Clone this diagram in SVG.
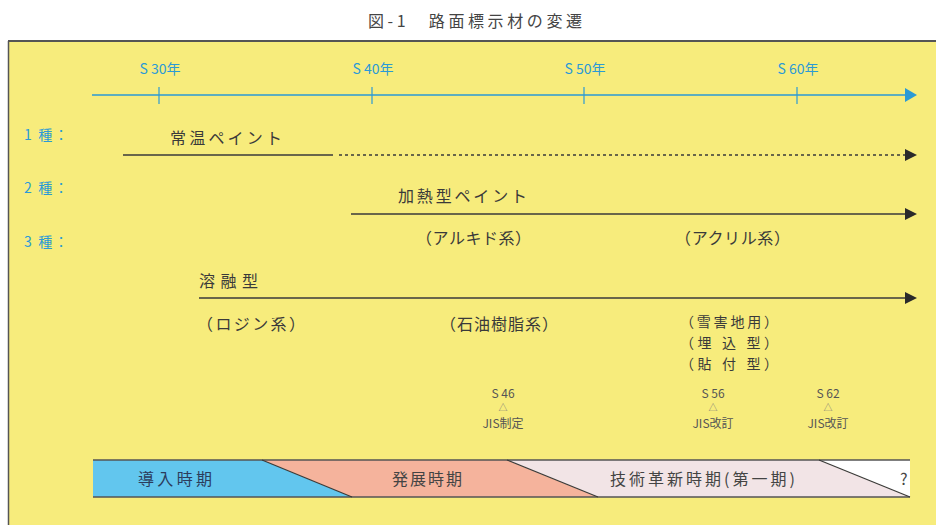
<svg xmlns="http://www.w3.org/2000/svg" width="936" height="525" viewBox="0 0 936 525">
<style>
text{font-family:"Noto Sans CJK JP","Noto Sans CJK SC",sans-serif;}
.ax{font-size:14px;fill:#2a9ad6;text-anchor:middle;}
.row{font-size:14px;fill:#2a9ad6;}
.lbl{font-size:16px;fill:#3a3a3a;}
.stk{font-size:14px;fill:#3a3a3a;}
.jis{font-size:12px;fill:#555;text-anchor:middle;}
.tri{font-size:9px;fill:#777;text-anchor:middle;}
.bar{font-size:16px;fill:#444;}
.ln{stroke:#3a3a3a;stroke-width:1.6;fill:none;}
.slant{stroke:#3a3a3a;stroke-width:1.2;fill:none;}
</style>
<rect x="0" y="0" width="936" height="525" fill="#ffffff"/>
<text x="475" y="27" text-anchor="middle" style="font-size:16px;fill:#444" textLength="214">図-1　路面標示材の変遷</text>
<g id="frame">
<rect x="8" y="41" width="930" height="486" fill="#f7ec7c"/>
<line x1="8" y1="41" x2="936" y2="41" stroke="#555" stroke-width="1.8"/>
<line x1="8.5" y1="41" x2="8.5" y2="525" stroke="#555" stroke-width="1.5"/>
</g>
<g id="axis">
<line x1="92" y1="95" x2="907" y2="95" stroke="#2a9ad6" stroke-width="1.6"/>
<polygon points="905,88 917,95 905,102" fill="#2a9ad6"/>
<g stroke="#2a9ad6" stroke-width="1.2">
<line x1="159" y1="87" x2="159" y2="104"/>
<line x1="372" y1="87" x2="372" y2="104"/>
<line x1="584" y1="87" x2="584" y2="104"/>
<line x1="797" y1="87" x2="797" y2="104"/>
</g>
<text class="ax" x="160" y="74">S 30年</text>
<text class="ax" x="373" y="74">S 40年</text>
<text class="ax" x="585" y="74">S 50年</text>
<text class="ax" x="798" y="74">S 60年</text>
</g>
<g id="row-labels">
<text class="row" x="24" y="140" textLength="44">1 種：</text>
<text class="row" x="24" y="193" textLength="44">2 種：</text>
<text class="row" x="24" y="247" textLength="44">3 種：</text>
</g>
<g id="connectors">
<line class="ln" x1="123" y1="155" x2="333" y2="155"/>
<line x1="339" y1="155" x2="906" y2="155" stroke="#3a3a3a" stroke-width="1.3" stroke-dasharray="3,3"/>
<polygon points="905,149 917,155 905,161" fill="#2a2a2a"/>
<line class="ln" x1="351" y1="214" x2="906" y2="214"/>
<polygon points="905,208 917,214 905,220" fill="#2a2a2a"/>
<line class="ln" x1="199" y1="298" x2="906" y2="298"/>
<polygon points="905,292 917,298 905,304" fill="#2a2a2a"/>
</g>
<g id="type1">
<text class="lbl" x="170" y="144" textLength="112">常温ペイント</text>
</g>
<g id="type2">
<text class="lbl" x="398" y="202" textLength="129">加熱型ペイント</text>
<text class="lbl" x="416" y="244" textLength="115">（アルキド系）</text>
<text class="lbl" x="675" y="244" textLength="115">（アクリル系）</text>
</g>
<g id="type3">
<text class="lbl" x="199" y="287" textLength="59">溶融型</text>
<text class="lbl" x="197" y="330" textLength="108">（ロジン系）</text>
<text class="lbl" x="440" y="330" textLength="118">（石油樹脂系）</text>
<text class="stk" x="680" y="327" textLength="98">（雪害地用）</text>
<text class="stk" x="680" y="348" textLength="98">（埋 込 型）</text>
<text class="stk" x="680" y="369" textLength="98">（貼 付 型）</text>
</g>
<g id="jis">
<text class="jis" x="503" y="398">S 46</text>
<text class="tri" x="503" y="411">△</text>
<text class="jis" x="503" y="428">JIS制定</text>
<text class="jis" x="713" y="398">S 56</text>
<text class="tri" x="713" y="411">△</text>
<text class="jis" x="713" y="428">JIS改訂</text>
<text class="jis" x="828" y="398">S 62</text>
<text class="tri" x="828" y="411">△</text>
<text class="jis" x="828" y="428">JIS改訂</text>
</g>
<g id="periods">
<polygon id="p1" points="93,460 262,460 352,497 93,497" fill="#62c6ee"/>
<polygon id="p2" points="262,460 507,460 598,497 352,497" fill="#f5b39c"/>
<polygon id="p3" points="507,460 819,460 910,497 598,497" fill="#f2e4e6"/>
<polygon id="p4" points="819,460 910,460 910,497" fill="#ffffff"/>
<line x1="93" y1="460" x2="910" y2="460" stroke="#555" stroke-width="1.6"/>
<line x1="93" y1="497" x2="910" y2="497" stroke="#555" stroke-width="1.6"/>
<line class="slant" x1="262" y1="460" x2="352" y2="497"/>
<line class="slant" x1="507" y1="460" x2="598" y2="497"/>
<line class="slant" x1="819" y1="460" x2="910" y2="497"/>
<text class="bar" x="138" y="485" style="fill:#2c3c5c" textLength="74">導入時期</text>
<text class="bar" x="392" y="485" textLength="70">発展時期</text>
<text class="bar" x="610" y="485" textLength="185">技術革新時期(第一期)</text>
<text class="bar" x="900" y="485">?</text>
</g>
</svg>
